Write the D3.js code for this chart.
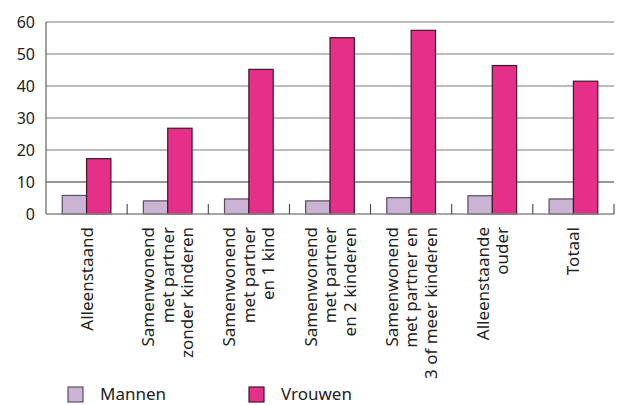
<!DOCTYPE html>
<html>
<head>
<meta charset="utf-8">
<script src="https://cdn.jsdelivr.net/npm/d3@7"></script>
<style>
  body { margin: 0; background: #fff; }
  text { font-family: "Noto Sans", "Open Sans", sans-serif; fill: #222; }
</style>
</head>
<body>
<div id="chart"></div>
<script>
const categories = [
    ["Alleenstaand"],
    ["Samenwonend", "met partner", "zonder kinderen"],
    ["Samenwonend", "met partner", "en 1 kind"],
    ["Samenwonend", "met partner", "en 2 kinderen"],
    ["Samenwonend", "met partner en", "3 of meer kinderen"],
    ["Alleenstaande", "ouder"],
    ["Totaal"]
];
const series = ["Mannen", "Vrouwen"];
const mannen = [5.8, 4.1, 4.7, 4.1, 5.1, 5.7, 4.7];
const vrouwen = [17.3, 26.8, 45.2, 55.1, 57.4, 46.4, 41.5];
const yTicks = [0, 10, 20, 30, 40, 50, 60];

const colors = { Mannen: "#cbb3d5", Vrouwen: "#e52f89" };
const strokes = { Mannen: "#5a4d5e", Vrouwen: "#3a1a28" };

(function () {
    const width = 624, height = 405;
    const plotLeft = 46, plotRight = 614, plotTop = 22, plotBottom = 214;

    const svg = d3.select("#chart").append("svg")
        .attr("width", width)
        .attr("height", height);

    const keys = categories.map((d, i) => i);
    const x = d3.scaleBand().domain(keys).range([plotLeft, plotRight]);
    const bw = x.bandwidth();
    const x1 = d3.scaleBand().domain(series).range([bw * 0.2, bw * 0.8]);
    const y = d3.scaleLinear().domain([0, 60]).range([plotBottom, plotTop]);

    // gridlines
    svg.append("g").selectAll("line")
        .data(yTicks.filter(t => t > 0))
        .join("line")
        .attr("x1", plotLeft).attr("x2", plotRight)
        .attr("y1", d => y(d)).attr("y2", d => y(d))
        .attr("stroke", d => d === 10 ? "#333" : "#7a7a7a")
        .attr("stroke-width", 1);

    // y labels
    svg.append("g").selectAll("text")
        .data(yTicks)
        .join("text")
        .attr("x", 35)
        .attr("y", d => y(d) + 5.5)
        .attr("text-anchor", "end")
        .style("font-size", "16px")
        .text(d => d);

    // bars
    const rows = keys.map(i => ({ i, Mannen: mannen[i], Vrouwen: vrouwen[i] }));
    const groups = svg.append("g").selectAll("g")
        .data(rows)
        .join("g")
        .attr("transform", d => `translate(${x(d.i)},0)`);

    groups.selectAll("rect")
        .data(d => series.map(s => ({ s, v: d[s] })))
        .join("rect")
        .attr("x", d => x1(d.s))
        .attr("y", d => y(d.v))
        .attr("width", x1.bandwidth())
        .attr("height", d => y(0) - y(d.v))
        .attr("fill", d => colors[d.s])
        .attr("stroke", d => strokes[d.s])
        .attr("stroke-width", 1.2);

    // axes
    svg.append("line")
        .attr("x1", plotLeft).attr("x2", plotLeft)
        .attr("y1", plotTop).attr("y2", plotBottom)
        .attr("stroke", "#444");
    svg.append("line")
        .attr("x1", plotLeft).attr("x2", plotRight)
        .attr("y1", plotBottom).attr("y2", plotBottom)
        .attr("stroke", "#888").attr("stroke-width", 1.5);

    // separator ticks pointing up
    svg.append("g").selectAll("line")
        .data(keys)
        .join("line")
        .attr("x1", d => x(d) + bw).attr("x2", d => x(d) + bw)
        .attr("y1", plotBottom - 10).attr("y2", plotBottom)
        .attr("stroke", "#333");

    // category labels, rotated
    const lh = 19.5;
    groups.each(function (d) {
        const lines = categories[d.i];
        const n = lines.length;
        d3.select(this).selectAll("text")
            .data(lines)
            .join("text")
            .attr("transform", (t, j) => {
                const cx = bw / 2 + (j - (n - 1) / 2) * lh + 6;
                return `translate(${cx},227) rotate(-90)`;
            })
            .attr("text-anchor", "end")
            .style("font-size", "17px")
            .text(t => t);
    });

    // legend
    const legend = svg.append("g");
    const lx = [68, 249];
    series.forEach((s, i) => {
        legend.append("rect")
            .attr("x", lx[i]).attr("y", 387)
            .attr("width", 15).attr("height", 15)
            .attr("fill", colors[s])
            .attr("stroke", strokes[s])
            .attr("stroke-width", 1.2);
        legend.append("text")
            .attr("x", lx[i] + 32).attr("y", 400)
            .style("font-size", "17px")
            .text(s);
    });
})();
</script>
</body>
</html>
